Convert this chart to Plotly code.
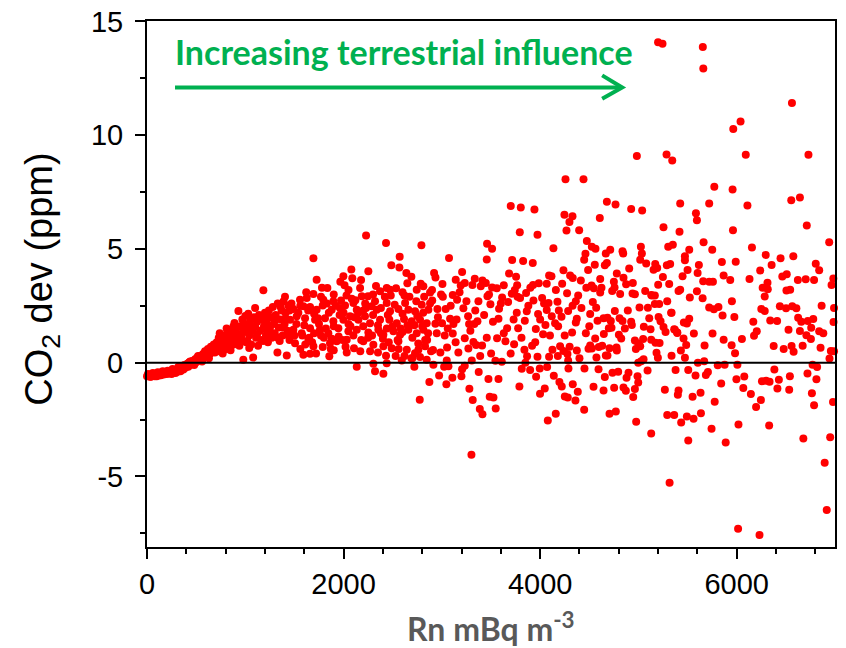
import plotly.graph_objects as go

# ---- data: Rn (mBq m-3) vs CO2 deviation (ppm) ----
rn_band = [0, 20, 40, 50, 70, 90, 100, 120, 140, 150,
           170, 190, 200, 220, 240, 250, 270, 290, 300, 310,
           330, 340, 360, 370, 380, 390, 410, 420, 430, 450,
           460, 470, 490, 500, 510, 530, 540, 550, 570, 580,
           600, 610, 620, 640, 650, 660, 680, 690, 700, 710,
           720, 730, 750, 760, 780, 790, 800, 820, 830, 840,
           860, 870, 880, 900, 910, 920, 930, 940, 950, 960,
           980, 990, 1000, 1010, 1020, 1040, 1050, 1060, 1070, 1080,
           1090, 1100, 1110, 1120, 1130, 1140, 1150, 1160, 1170, 1184,
           1190, 1200, 1210, 1220, 1230, 1240, 1250, 1260, 1270, 1280,
           1290, 1300, 1310, 1327, 1330, 1340, 1350, 1360, 1370, 1380,
           1390, 1400, 1404, 1410, 1422, 1430, 1440, 1450, 750, 800,
           850, 880, 900, 950, 980, 1000, 1020, 1040, 1060, 1120,
           1150, 1180, 1200, 1230, 1260, 1300, 1330, 1360, 1380, 1410,
           1440, 1450]
co2_band = [-0.60, -0.55, -0.62, -0.50, -0.57, -0.50, -0.60, -0.48, -0.55, -0.45,
            -0.52, -0.42, -0.50, -0.47, -0.38, -0.50, -0.40, -0.45, -0.32, -0.40,
            -0.28, -0.38, -0.20, -0.30, -0.10, -0.22, -0.05, -0.18, 0.02, -0.08,
            0.08, -0.02, 0.15, 0.02, 0.22, 0.10, 0.30, 0.18, 0.38, 0.22,
            0.45, 0.30, 0.60, 0.38, 0.70, 0.50, 0.80, 0.45, 0.62, 0.90,
            0.50, 1.10, 0.70, 0.95, 1.20, 0.60, 0.85, 1.30, 1.00, 0.70,
            1.15, 1.40, 0.80, 1.00, 1.50, 1.25, 2.27, 0.75, 1.60, 1.10,
            0.13, 1.35, 1.70, 0.90, 1.50, 1.20, 1.85, 0.80, 1.40, 0.23,
            2.00, 1.60, 1.10, 1.80, 0.75, 2.10, 1.40, 1.00, 1.90, 3.18,
            1.60, 2.20, 1.20, 1.75, 0.90, 2.30, 1.50, 2.00, 1.10, 2.45,
            1.70, 1.30, 2.10, 0.45, 2.60, 1.55, 0.95, 1.90, 2.30, 1.20,
            2.70, 1.70, 2.90, 2.20, 0.32, 1.40, 2.50, 1.00, 1.05, 0.60,
            1.05, 1.60, 1.30, 0.90, 1.45, 2.05, 0.95, 0.65, 1.55, 1.25,
            2.05, 0.95, 1.50, 2.00, 1.30, 1.85, 1.10, 2.45, 1.55, 1.95,
            1.20, 2.30]

rn_band2 = [10, 30, 60, 80, 110, 130, 160, 180, 210, 230,
            260, 280, 320, 350, 400, 440, 480, 520, 560, 590,
            630, 670, 740, 770, 810, 850, 890, 970, 1030, 1100]
co2_band2 = [-0.50, -0.62, -0.45, -0.60, -0.42, -0.55, -0.38, -0.47, -0.35, -0.45,
             -0.28, -0.38, -0.18, -0.32, -0.12, 0.05, -0.10, 0.30, 0.05, 0.50,
             0.20, 0.55, 1.30, 0.40, 1.50, 0.55, 1.75, 1.90, 2.15, 2.40]

rn_mid = [2229, 2432, 2792, 1693, 2571, 2486, 2568, 2079, 2252, 1726,
          1998, 2089, 1967, 2010, 1835, 2178, 2168, 2330, 2639, 2690,
          2649, 2785, 1693, 1557, 1625, 1794, 1896, 1974, 2083, 2185,
          2249, 2371, 2439, 2473, 2534, 2619, 2744, 2812, 2880, 1489,
          1591, 1659, 1726, 1788, 1879, 1964, 2015, 2100, 2134, 2229,
          2286, 2337, 2439, 2473, 2558, 2626, 2659, 2727, 2795, 2863,
          1455, 1523, 1608, 1710, 1811, 1896, 1998, 2066, 2151, 2218,
          2269, 2371, 2466, 2541, 2615, 2693, 2778, 2846, 1489, 1574,
          1659, 1760, 1845, 1947, 2049, 2134, 2252, 2354, 2405, 2507,
          2575, 2659, 2744, 2812, 1506, 1642, 1693, 1788, 1862, 1930,
          2032, 2106, 2201, 2303, 2405, 2490, 2558, 2643, 2761, 2829,
          1591, 1659, 1855, 2032, 2432, 2439, 2592, 2727, 2778, 2846,
          2134, 2303, 2320, 2405, 2720, 2873, 2775, 1540, 1600, 1650,
          1700, 1750, 1800, 1850, 1900, 1950, 2000, 2050, 2100, 2150,
          2200, 2250, 2300, 2350, 2400, 2450, 2500, 2550, 2600, 2650,
          2700, 2750, 2800, 2850, 1560, 1720, 1900, 2170, 2350, 2560,
          2700, 1620, 1780, 1900, 2050, 2300, 2480, 2600, 2820]
co2_mid = [5.59, 5.26, 5.16, 4.59, 4.66, 4.28, 4.18, 4.10, 4.02, 3.65,
           3.80, 3.71, 3.56, 3.40, 3.28, 3.64, 3.28, 3.37, 3.94, 3.78,
           3.49, 3.47, 3.02, 2.77, 2.84, 2.77, 2.70, 2.73, 2.81, 2.92,
           2.92, 3.14, 3.28, 3.21, 3.27, 2.95, 3.21, 3.36, 3.09, 2.36,
           2.48, 2.45, 2.33, 2.51, 2.33, 2.40, 2.51, 2.62, 2.33, 2.40,
           2.48, 2.33, 2.62, 2.26, 2.36, 2.62, 2.33, 2.26, 2.55, 2.33,
           1.89, 2.04, 1.96, 1.89, 1.96, 1.82, 1.89, 2.04, 1.89, 2.04,
           1.74, 1.89, 1.89, 1.74, 1.92, 1.82, 1.89, 1.74, 1.45, 1.30,
           1.52, 1.45, 1.30, 1.52, 1.38, 1.45, 1.33, 1.45, 1.23, 1.38,
           1.23, 1.45, 1.30, 1.45, 0.86, 1.01, 0.72, 0.69, 0.86, 0.94,
           1.01, 0.64, 0.94, 0.79, 0.72, 0.64, 0.94, 0.57, 0.57, 0.72,
           0.35, 0.39, 0.28, 0.45, 0.31, -0.02, 0.10, 0.42, 0.25, 0.13,
           -0.18, -0.04, -0.38, -0.48, -0.18, -0.85, -1.63, 2.20, 1.65, 1.10,
           2.15, 1.70, 1.10, 2.20, 1.60, 1.15, 2.20, 1.70, 1.20, 2.20,
           1.60, 1.10, 2.10, 1.65, 1.05, 2.10, 1.60, 1.00, 2.15, 1.65,
           1.10, 2.05, 1.60, 1.00, 0.60, 0.40, 0.55, 0.50, 0.45, 0.60,
           0.20, 3.10, 3.30, 3.00, 3.20, 3.00, 2.95, 3.10, 2.90]

rn_mid2 = [1470, 1520, 1580, 1640, 1680, 1740, 1770, 1820, 1870, 1920,
           1990, 2030, 2070, 2120, 2180, 2220, 2270, 2320, 2380, 2420,
           2460, 2520, 2580, 2620, 2670, 2720, 2760, 2810, 2860, 2890,
           1500, 1560, 1610, 1700, 1770, 1830, 1880, 1960, 2020, 2110,
           2200, 2290, 2380, 2440, 2530, 2600, 2690, 2740, 2830, 2880]
co2_mid2 = [2.60, 1.70, 1.20, 2.30, 0.90, 1.95, 2.90, 1.50, 0.60, 2.50,
            1.00, 2.95, 1.60, 2.75, 1.00, 2.60, 0.50, 2.70, 1.30, 2.90,
            0.90, 2.55, 1.50, 0.30, 2.90, 1.65, 0.85, 2.20, 1.30, 0.50,
            1.20, 2.50, 0.80, 1.30, 1.20, 2.60, 1.05, 2.10, 0.70, 2.00,
            2.30, 1.20, 2.40, 1.50, 0.30, 1.35, 0.20, 2.70, 1.00, 2.60]

rn_c = [4258, 4441, 3701, 3803, 3942, 4247, 4329, 4298, 3793, 3973,
        4268, 4397, 3460, 3511, 4135, 4475, 3073, 3457, 3715, 3827,
        3925, 4448, 4461, 4488, 4237, 3684, 3755, 4115, 4305, 4332,
        2921, 3206, 3141, 3192, 3233, 3335, 3311, 3413, 3447, 3006,
        3396, 3511, 3559, 3766, 3928, 3986, 4067, 4091, 4224, 4414,
        2935, 2900, 2992, 3111, 3464, 3613, 3711, 3742, 3857, 3796,
        3932, 4020, 4085, 4176, 4274, 4387, 4363, 2902, 2955, 3039,
        3155, 3219, 3372, 3494, 3582, 3674, 3762, 3864, 3979, 4067,
        4118, 4217, 4285, 4373, 4509, 2934, 3002, 3084, 3118, 3277,
        3362, 3267, 3576, 3664, 3776, 3844, 3956, 4054, 4152, 4183,
        4325, 4363, 4465, 4509, 2948, 3029, 3111, 3233, 3321, 3409,
        3457, 3562, 3647, 3735, 3840, 3918, 4030, 4125, 4203, 4278,
        4373, 4492, 2910, 2985, 3053, 3168, 3270, 3348, 3501, 3545,
        3610, 3867, 3973, 4091, 4237, 4285, 2914, 3023, 3067, 3206,
        3233, 3304, 3375, 3813, 3898, 3996, 4071, 4139, 4288, 4451,
        2972, 3046, 3107, 3199, 3474, 3576, 3789, 3959, 3999, 4047,
        4196, 4220, 4332, 4383, 3280, 3487, 3525, 3314, 3548, 3386,
        3413, 4251, 4281, 4359, 4448, 4159, 4078, 3301]
co2_c = [8.06, 8.06, 6.89, 6.82, 6.74, 6.50, 6.44, 6.19, 5.73, 5.63,
         5.81, 5.82, 5.23, 5.01, 5.03, 5.35, 4.60, 4.54, 4.52, 4.47,
         4.38, 4.53, 4.79, 4.08, 4.06, 3.92, 3.78, 3.80, 3.83, 3.72,
         3.94, 3.99, 3.65, 3.39, 3.50, 3.69, 3.42, 3.61, 3.50, 3.46,
         3.36, 3.31, 3.27, 3.40, 3.42, 3.49, 3.47, 3.83, 3.47, 3.61,
         3.75, 3.20, 3.00, 2.98, 2.92, 2.87, 3.03, 3.20, 3.06, 2.84,
         2.74, 2.84, 2.62, 2.68, 3.05, 2.96, 2.70, 2.74, 2.36, 2.36,
         2.77, 2.39, 2.70, 2.57, 2.37, 2.67, 2.20, 2.26, 2.14, 2.32,
         2.04, 2.02, 2.27, 1.93, 2.14, 1.71, 1.74, 1.93, 1.70, 1.70,
         1.82, 2.04, 1.93, 1.52, 1.52, 1.85, 1.48, 1.66, 1.74, 1.60,
         1.33, 1.77, 1.29, 0.76, 1.29, 1.20, 1.28, 1.07, 0.91, 0.76,
         1.10, 1.07, 0.94, 0.81, 0.57, 0.75, 1.25, 0.57, 0.72, 0.38,
         0.54, 0.61, 0.56, 0.45, 0.67, 0.45, 0.63, 0.78, 0.40, 0.09,
         0.04, 0.28, 0.26, 0.26, 0.51, 0.10, -0.09, -0.18, -0.15, -0.29,
         -0.13, 0.10, -0.41, -0.27, -0.32, -0.25, -0.19, -0.57, -0.25, -0.25,
         -0.56, -0.95, -0.66, -0.60, -0.72, -0.72, -1.04, -0.62, -1.36, -1.13,
         -0.85, -1.04, -0.95, -1.28, -1.14, -1.50, -1.53, -1.64, -2.01, -2.03,
         -2.27, -1.48, -1.53, -1.66, -2.07, -2.24, -2.54, -4.05]

rn_c2 = [2960, 3010, 3060, 3090, 3140, 3180, 3250, 3290, 3340, 3390,
         3430, 3480, 3520, 3600, 3630, 3700, 3730, 3770, 3810, 3880,
         3900, 3950, 4000, 4040, 4100, 4160, 4190, 4250, 4300, 4330,
         4400, 4420, 4470, 4500, 3050, 3150, 3330, 3630, 3850, 4180]
co2_c2 = [2.00, 2.90, 1.50, 2.50, 0.90, 3.10, 2.70, 1.40, 2.30, 0.30,
          2.10, 3.00, 1.80, 2.60, 1.30, 0.40, 1.90, 2.90, 1.10, 2.50,
          3.30, 0.90, 1.90, 2.60, 1.20, 3.20, 2.30, 1.20, 0.70, 2.50,
          0.20, 2.40, 3.30, 1.60, 0.10, 1.90, 1.70, 3.40, 0.00, 0.30]

rn_d = [4984, 5286, 5344, 4679, 4767, 4926, 5038, 5425, 5720, 4607,
        5585, 5595, 5255, 5418, 5663, 5751, 5025, 5303, 5350, 5517,
        4713, 4668, 4838, 4845, 4526, 4563, 5035, 5018, 5079, 5171,
        5191, 5154, 5289, 5323, 5473, 5473, 5615, 5602, 5500, 4556,
        4658, 4679, 4906, 4780, 4611, 4750, 4848, 4943, 4875, 5249,
        5449, 5659, 5720, 5758, 4523, 4546, 4624, 4611, 4733, 4757,
        4814, 4940, 4964, 5069, 5130, 5167, 5201, 5313, 5408, 5425,
        5523, 5595, 5653, 4536, 4570, 4760, 4892, 5011, 5096, 5137,
        5167, 5211, 5293, 5337, 5720, 5768, 4584, 4645, 4685, 4719,
        4808, 4838, 4926, 4933, 5055, 5110, 5123, 5205, 5225, 5255,
        5276, 5333, 5371, 5395, 5462, 5517, 5493, 5564, 5754, 4699,
        4726, 4862, 4801, 4825, 4560, 4648, 4964, 4998, 5048, 5018,
        4974, 5130, 5174, 5215, 5184, 5198, 5337, 5364, 5395, 5459,
        5486, 5432, 5473, 5673, 4526, 4573, 4597, 4631, 4706, 4668,
        4780, 4777, 4685, 5028, 5052, 4998, 5605, 5669, 4594, 4736,
        4794, 4899, 5093, 5378, 5507, 5581, 5686, 5707, 4658, 4879,
        4991, 4998, 4543, 4645, 4753, 4848, 4872, 4947, 4964, 5269,
        5408, 5401, 5551, 5632, 4706, 4770, 4977, 5293, 5364, 5435,
        5493, 5561, 5636, 5130, 5507, 5744, 5317]
co2_d = [9.09, 9.15, 8.89, 7.07, 6.95, 6.76, 6.69, 7.00, 7.00, 6.36,
         6.57, 6.26, 5.95, 5.76, 5.29, 4.96, 5.10, 5.10, 5.19, 4.96,
         4.97, 4.80, 4.90, 4.80, 5.10, 5.01, 4.80, 4.53, 4.36, 4.34,
         4.16, 4.09, 4.28, 4.34, 4.68, 4.50, 4.30, 3.94, 4.08, 4.31,
         4.28, 4.38, 4.14, 3.92, 3.68, 3.56, 3.74, 3.50, 3.45, 3.77,
         3.80, 3.58, 3.56, 3.56, 3.39, 3.27, 3.30, 3.09, 3.15, 3.31,
         3.02, 3.04, 3.01, 3.15, 2.98, 2.95, 3.43, 3.46, 3.15, 3.21,
         2.87, 3.14, 2.83, 2.67, 2.42, 2.27, 2.30, 2.43, 2.42, 2.95,
         2.58, 2.58, 2.70, 2.20, 2.43, 2.35, 1.85, 1.95, 1.98, 1.83,
         1.95, 1.83, 1.80, 1.66, 1.58, 1.96, 1.47, 2.01, 1.82, 1.57,
         1.35, 2.20, 1.45, 1.31, 1.77, 1.93, 1.72, 1.28, 1.28, 1.51,
         1.54, 1.50, 1.23, 1.06, 1.06, 1.26, 0.98, 0.85, 1.04, 0.72,
         0.60, 1.01, 0.88, 0.87, 0.44, 0.22, 0.31, 1.47, 1.33, 1.06,
         0.78, 0.54, 0.22, 0.76, 0.62, 0.23, 0.69, 0.75, 0.64, 0.32,
         0.54, 0.67, 0.32, 0.06, 0.15, 0.00, 0.00, 0.06, -0.29, -0.44,
         -0.40, -0.44, -0.34, -0.32, -0.32, -0.56, -0.54, -0.41, -0.63, -0.66,
         -0.60, -0.87, -1.06, -1.22, -1.10, -1.09, -1.23, -1.51, -1.16, -1.19,
         -1.22, -1.41, -1.50, -1.32, -2.24, -2.14, -2.60, -2.30, -2.30, -2.63,
         -2.36, -2.46, -2.22, -3.11, -3.42, -2.90, -5.28]

rn_e = [6562, 6039, 5965, 6092, 6730, 5772, 5958, 6109, 6555, 6643,
        5962, 6713, 6941, 6155, 6295, 6576, 6446, 5849, 5990, 6355,
        6804, 6839, 6239, 5867, 5934, 6130, 6313, 6264, 6316, 6285,
        6464, 6509, 6622, 6702, 6787, 6983, 6965, 6506, 6544, 5951,
        5814, 5856, 5976, 6250, 6285, 6439, 6502, 6565, 6607, 6864,
        6990, 6625, 6657, 6723, 6779, 6341, 6411, 6169, 6985, 6527,
        6643, 6709, 6755, 6758, 6839, 6881, 5867, 6053, 6176, 6204,
        6376, 6478, 6558, 6579, 6671, 6853, 5948, 5983, 6944, 6958,
        6990, 5807, 5877, 6007, 6383, 6541, 6720, 6772, 6818, 6811,
        5997, 6077, 6257, 6299, 6334, 6429, 6414, 6534, 6067, 5842,
        6144, 6197, 6246, 6765, 6787, 6980, 5776, 6018, 6330, 5888,
        6678, 6951, 6895, 6916, 6014, 6232]
co2_e = [11.42, 10.60, 10.27, 9.14, 9.14, 7.73, 7.61, 6.91, 7.14, 7.26,
         5.82, 6.03, 5.29, 5.06, 4.74, 4.68, 4.59, 4.43, 4.44, 4.30,
         4.35, 4.06, 4.05, 3.83, 3.64, 3.68, 3.52, 3.30, 3.23, 2.91,
         3.79, 3.89, 3.64, 3.67, 3.64, 3.70, 3.42, 3.17, 3.21, 2.70,
         2.45, 2.07, 2.01, 2.36, 2.27, 2.48, 2.39, 2.48, 2.39, 2.50,
         2.41, 1.98, 1.80, 1.83, 1.92, 1.86, 1.83, 1.80, 1.79, 1.45,
         1.39, 1.21, 1.04, 1.54, 1.38, 1.30, 1.01, 1.04, 1.19, 1.38,
         0.74, 0.60, 0.74, 0.48, 0.75, 0.66, 0.77, 0.42, 0.18, 0.51,
         0.50, -0.11, -0.09, -0.09, -0.30, -0.60, -0.47, -0.09, -0.19, -0.73,
         -0.73, -0.61, -0.81, -0.79, -0.84, -0.75, -1.13, -1.19, -1.11, -0.91,
         -1.38, -1.95, -1.64, -1.34, -1.87, -1.73, -1.72, -2.72, -2.76, -3.51,
         -3.33, -3.28, -4.40, -6.47, -7.30, -7.57]

rn_top = [5200, 5245, 5620, 5655, 5660]
co2_top = [14.09, 14.02, 15.30, 13.88, 12.93]

segments = [(rn_band, co2_band), (rn_band2, co2_band2), (rn_mid, co2_mid),
            (rn_mid2, co2_mid2), (rn_c, co2_c), (rn_c2, co2_c2),
            (rn_d, co2_d), (rn_e, co2_e), (rn_top, co2_top)]
rn_all, co2_all = [], []
for xs, ys in segments:
    assert len(xs) == len(ys), (len(xs), len(ys))
    rn_all += xs
    co2_all += ys

x_ticks = [0, 2000, 4000, 6000]
y_ticks = [-5, 0, 5, 10, 15]
y_tick_text = ["-5", "0", "5", "10", "15"]

GREEN = "#00B050"
fig = go.Figure()
fig.add_trace(go.Scatter(
    x=rn_all, y=co2_all, mode="markers",
    marker=dict(color="#FF0000", size=8, line=dict(width=0)),
    cliponaxis=False, showlegend=False, hoverinfo="x+y"))

axis_common = dict(showline=True, linecolor="black", linewidth=2, mirror=True,
                   showgrid=False, zeroline=False, ticks="outside",
                   tickcolor="black", tickwidth=2, ticklen=10, automargin=False,
                   tickfont=dict(family="Liberation Sans, Arial", size=29, color="black"))

fig.update_xaxes(range=[0, 7000], tickvals=x_ticks,
                 minor=dict(dtick=400, tick0=0, ticks="outside", ticklen=5,
                            tickwidth=2, tickcolor="black"),
                 **axis_common)
fig.update_yaxes(range=[-8.1, 15.02], tickvals=y_ticks, ticktext=y_tick_text,
                 ticklabelstandoff=6,
                 minor=dict(dtick=2.5, tick0=0, ticks="outside", ticklen=5,
                            tickwidth=2, tickcolor="black"),
                 **axis_common)

fig.update_layout(
    width=846, height=648,
    margin=dict(l=147, r=11, t=21, b=101),
    paper_bgcolor="white", plot_bgcolor="white",
    shapes=[
        dict(type="line", xref="paper", x0=0, x1=1, yref="y", y0=0, y1=0,
             line=dict(color="black", width=2), layer="above"),
        dict(type="line", xref="x", yref="y", x0=285, x1=4825, y0=12.1, y1=12.1,
             line=dict(color=GREEN, width=4), layer="above"),
        dict(type="path", xref="x", yref="y",
             path="M 4631,12.63 L 4835,12.1 L 4631,11.60",
             line=dict(color=GREEN, width=4), layer="above"),
    ],
    annotations=[
        dict(x=2610, y=13.68, xref="x", yref="y", showarrow=False,
             text="Increasing terrestrial influence",
             font=dict(family="Lato, Carlito, Calibri, sans-serif", size=34,
                       color=GREEN, weight="bold")),
        dict(x=-0.1526, y=0.508, xref="paper", yref="paper", showarrow=False,
             textangle=-90, xanchor="center", yanchor="middle",
             text="CO<sub>2</sub> dev (ppm)",
             font=dict(family="Liberation Sans, Arial", size=38, color="black")),
        dict(x=0.5, y=-0.152, xref="paper", yref="paper", showarrow=False,
             xanchor="center", yanchor="middle",
             text="Rn mBq m<sup>-3</sup>",
             font=dict(family="Lato, Carlito, Calibri, sans-serif", size=32,
                       color="#595959", weight="bold")),
    ],
)

# remove the default 8px page margin so the figure sits at the window's corner
fig.write_html("out.html",
               config={"displayModeBar": False},
               post_script="document.body.style.margin='0px';"
                           "document.body.style.overflow='hidden';")
